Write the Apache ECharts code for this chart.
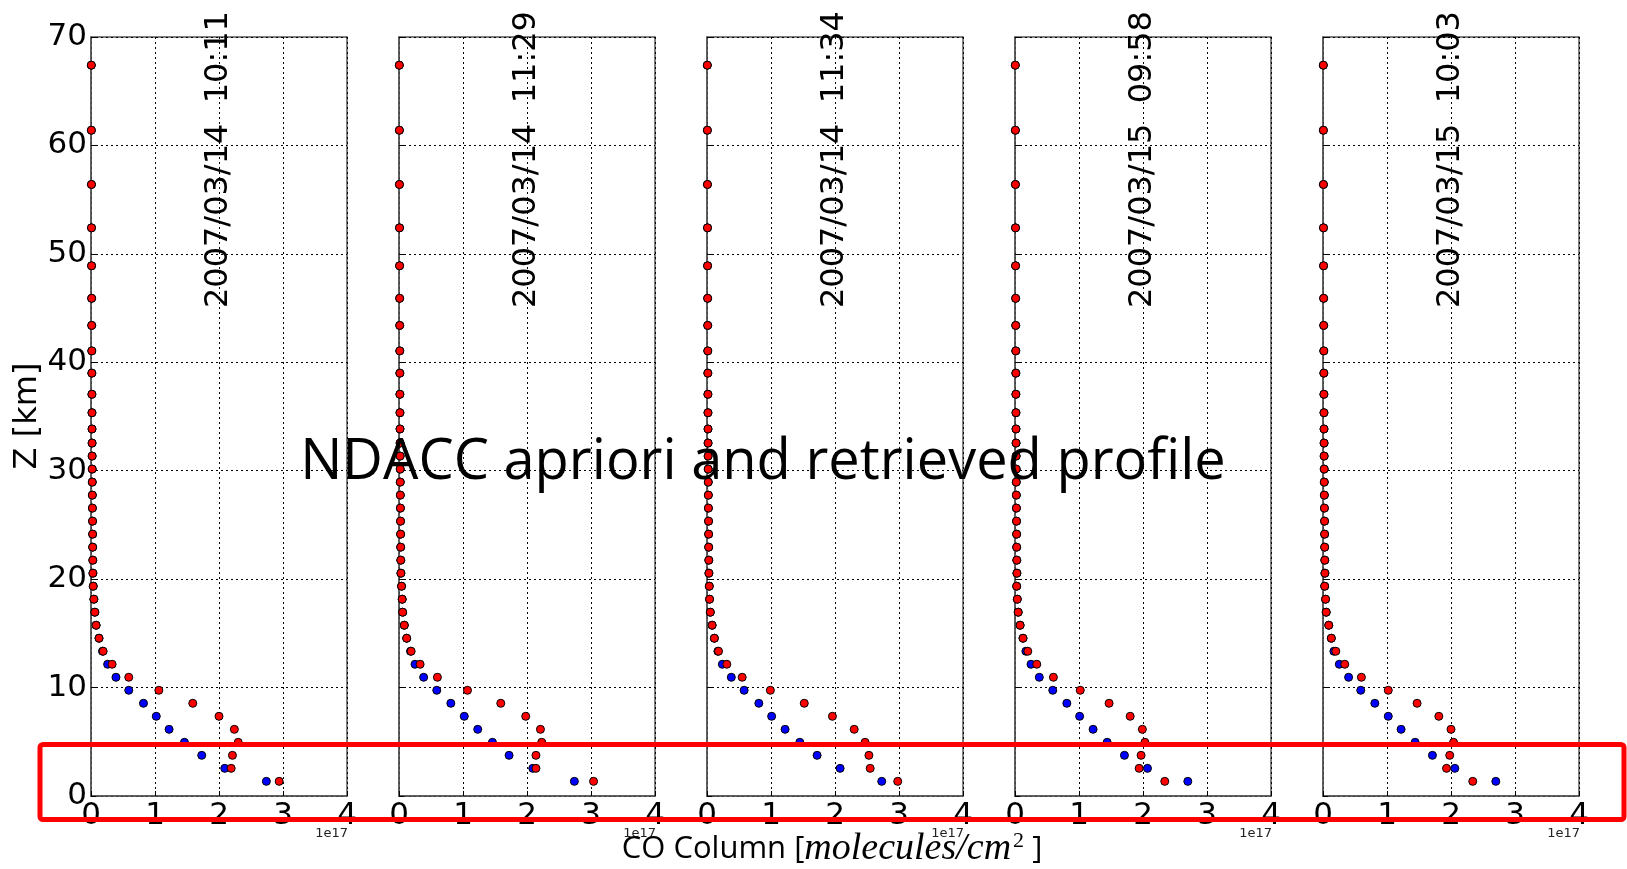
<!DOCTYPE html>
<html>
<head>
<meta charset="utf-8">
<title>NDACC apriori and retrieved profile</title>
<script src="https://cdn.jsdelivr.net/npm/echarts@6/dist/echarts.min.js"></script>
<style>
    html, body {margin:0; padding:0; background:#fff;}
    #chart {width:1627px; height:869px;}
</style>
</head>
<body>
<div id="chart"></div>
<script>
// altitude levels [km], bottom to top
var levels = [1.35, 2.55, 3.75, 4.95, 6.15, 7.35, 8.55, 9.75, 10.95, 12.15, 13.35, 14.55, 15.75, 16.95, 18.15, 19.35,
    20.55, 21.75, 22.95, 24.15, 25.35, 26.55, 27.75, 28.95, 30.15, 31.35, 32.55, 33.85, 35.35, 37.05, 39.0, 41.05,
    43.4, 45.9, 48.9, 52.4, 56.4, 61.4, 67.4];

// upper levels (20.55 km and up), same in every panel, units 1e17
var upperTail = [0.03, 0.028, 0.026, 0.025, 0.024, 0.022, 0.021, 0.02, 0.019, 0.018, 0.017, 0.016, 0.015,
    0.014, 0.013, 0.012, 0.011, 0.01, 0.009, 0.008, 0.007, 0.006, 0.005];

var dates = ['2007/03/14  10:11', '2007/03/14  11:29', '2007/03/14  11:34', '2007/03/15  09:58', '2007/03/15  10:03'];

// apriori (blue), lower 16 levels
var apriori1 = [2.74, 2.09, 1.73, 1.46, 1.22, 1.02, 0.82, 0.59, 0.39, 0.26, 0.18, 0.125, 0.08, 0.06, 0.045, 0.035];
var apriori2 = [2.74, 2.09, 1.72, 1.46, 1.23, 1.02, 0.81, 0.59, 0.385, 0.25, 0.18, 0.12, 0.083, 0.057, 0.05, 0.04];
var apriori3 = [2.73, 2.08, 1.72, 1.45, 1.22, 1.01, 0.81, 0.58, 0.38, 0.24, 0.17, 0.115, 0.08, 0.052, 0.04, 0.036];
var apriori4 = [2.70, 2.07, 1.71, 1.44, 1.22, 1.01, 0.81, 0.59, 0.38, 0.25, 0.17, 0.125, 0.08, 0.05, 0.036, 0.026];
var apriori5 = [2.70, 2.06, 1.71, 1.44, 1.22, 1.02, 0.81, 0.59, 0.40, 0.255, 0.17, 0.13, 0.09, 0.05, 0.04, 0.026];

// retrieved (red), lower 16 levels
var retrieved1 = [2.94, 2.19, 2.21, 2.30, 2.24, 2.00, 1.59, 1.06, 0.59, 0.33, 0.19, 0.125, 0.08, 0.06, 0.045, 0.035];
var retrieved2 = [3.04, 2.14, 2.14, 2.23, 2.21, 1.98, 1.59, 1.07, 0.60, 0.33, 0.19, 0.12, 0.083, 0.057, 0.05, 0.04];
var retrieved3 = [2.98, 2.55, 2.53, 2.47, 2.30, 1.96, 1.52, 0.99, 0.55, 0.31, 0.18, 0.115, 0.08, 0.052, 0.04, 0.036];
var retrieved4 = [2.34, 1.94, 1.97, 2.03, 1.99, 1.80, 1.47, 1.02, 0.60, 0.34, 0.20, 0.125, 0.08, 0.05, 0.036, 0.026];
var retrieved5 = [2.34, 1.93, 1.98, 2.04, 2.00, 1.81, 1.47, 1.02, 0.60, 0.34, 0.20, 0.13, 0.09, 0.05, 0.04, 0.026];

var xTicks = ['0', '1', '2', '3', '4'];

var aprioriAll = [apriori1, apriori2, apriori3, apriori4, apriori5];
var retrievedAll = [retrieved1, retrieved2, retrieved3, retrieved4, retrieved5];

var myChart = echarts.init(document.getElementById('chart'));

var gridLeft = 91, gridStep = 308, gridW = 256, gridTop = 37, gridH = 759;
var tickFont = 'DejaVu Sans';

function toPoints(lower) {
    var vals = lower.concat(upperTail);
    var out = [];
    for (var i = 0; i < levels.length; i++) {
        out.push([vals[i], levels[i]]);
    }
    return out;
}

var grids = [], xAxes = [], yAxes = [], series = [];
for (var p = 0; p < 5; p++) {
    grids.push({
        left: gridLeft + p * gridStep, top: gridTop, width: gridW, height: gridH,
        show: true, borderColor: '#555', borderWidth: 1.5
    });
    xAxes.push({
        type: 'value', gridIndex: p, min: 0, max: 4, interval: 1,
        axisLine: {show: true, onZero: false, lineStyle: {color: '#555', width: 1.5}},
        axisTick: {show: true, inside: true, length: 5, lineStyle: {color: '#000'}},
        axisLabel: {
            fontSize: 31, color: '#000', fontFamily: tickFont, margin: 4,
            formatter: function (v) { return xTicks[Math.round(v)]; }
        },
        splitLine: {show: true, lineStyle: {color: '#000', type: [2, 3], width: 1}}
    });
    yAxes.push({
        type: 'value', gridIndex: p, min: 0, max: 70, interval: 10,
        axisLine: {show: true, lineStyle: {color: '#555', width: 1.5}},
        axisTick: {show: true, inside: true, length: 5, lineStyle: {color: '#000'}},
        axisLabel: {show: p === 0, fontSize: 31, color: '#000', fontFamily: tickFont, margin: 4},
        splitLine: {show: true, lineStyle: {color: '#000', type: [2, 3], width: 1}}
    });
    series.push({
        name: 'apriori', type: 'scatter', xAxisIndex: p, yAxisIndex: p,
        symbolSize: 8, data: toPoints(aprioriAll[p]),
        itemStyle: {color: '#0000ff', borderColor: '#000', borderWidth: 1, opacity: 1},
        z: 3
    });
    series.push({
        name: 'retrieved', type: 'scatter', xAxisIndex: p, yAxisIndex: p,
        symbolSize: 8, data: toPoints(retrievedAll[p]),
        itemStyle: {color: '#ff0000', borderColor: '#000', borderWidth: 1, opacity: 1},
        z: 4
    });
}

option = {
    animation: false,
    backgroundColor: '#fff',
    grid: grids,
    xAxis: xAxes,
    yAxis: yAxes,
    series: series
};
myChart.setOption(option);

// texts and the red box, placed from the grids
var graphics = [];
for (var k = 0; k < 5; k++) {
    var pt = myChart.convertToPixel({gridIndex: k}, [2, 45]);
    graphics.push({
        type: 'text', x: pt[0], y: pt[1], rotation: Math.PI / 2, z: 10,
        style: {text: dates[k], font: '32px "DejaVu Sans"', fill: '#000', textAlign: 'left', textVerticalAlign: 'middle'}
    });
    var right = gridLeft + k * gridStep + gridW;
    graphics.push({
        type: 'text', x: right + 1, y: gridTop + gridH + 38, z: 10,
        style: {text: '1e17', font: '13px "DejaVu Sans"', fill: '#222', textAlign: 'right', textVerticalAlign: 'middle'}
    });
}
graphics.push({
    type: 'text', x: 28, y: 416, rotation: Math.PI / 2, z: 10,
    style: {text: 'Z [km]', font: '32px "DejaVu Sans"', fill: '#000', textAlign: 'center', textVerticalAlign: 'middle'}
});
graphics.push({
    type: 'text', x: 763, y: 463, z: 20,
    style: {text: 'NDACC apriori and retrieved profile', font: '56px "Open Sans"', fill: '#000', textAlign: 'center', textVerticalAlign: 'middle'}
});
graphics.push({
    type: 'text', x: 832, y: 849, z: 20,
    style: {
        text: '{n|CO Column [}{m|molecules/cm}{s|2}{n| ]}',
        textAlign: 'center', textVerticalAlign: 'middle', fill: '#000',
        rich: {
            n: {fontFamily: 'Open Sans', fontSize: 31, fill: '#000'},
            m: {fontFamily: 'Liberation Serif', fontStyle: 'italic', fontSize: 38, fill: '#000'},
            s: {fontFamily: 'Liberation Serif', fontSize: 22, fill: '#000', verticalAlign: 'top', padding: [0, 0, 14, 2]}
        }
    }
});
graphics.push({
    type: 'rect', z: 30,
    shape: {x: 40, y: 744.5, width: 1584, height: 75, r: 3},
    style: {fill: 'none', stroke: '#ff0000', lineWidth: 5}
});
myChart.setOption({graphic: graphics});
</script>
</body>
</html>
